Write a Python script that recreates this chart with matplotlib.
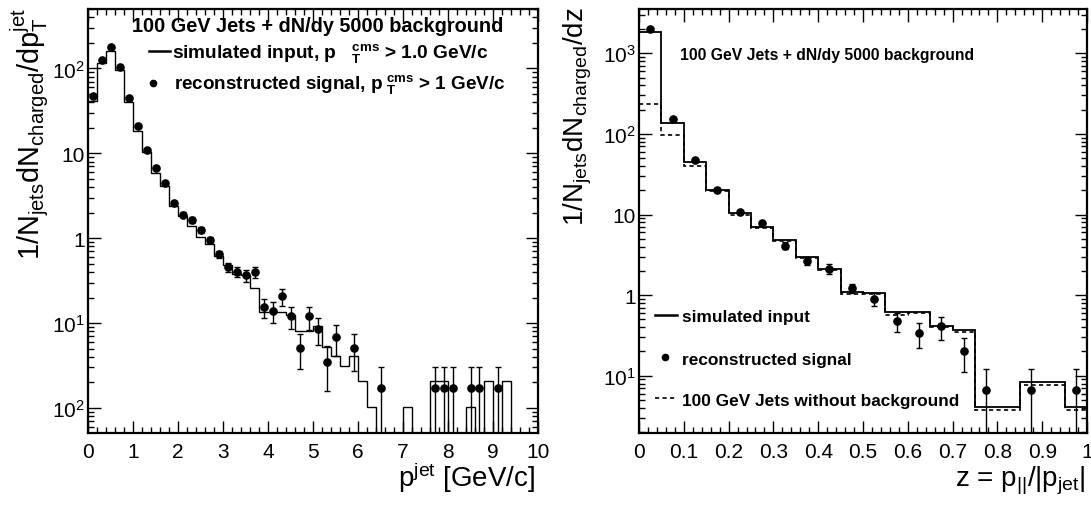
import numpy as np
import matplotlib
matplotlib.use("Agg")
import matplotlib.pyplot as plt
from matplotlib.ticker import FixedLocator, FixedFormatter, LogLocator, MultipleLocator, NullFormatter, FuncFormatter
from matplotlib.lines import Line2D

plt.rcParams['font.family'] = ['Liberation Sans', 'DejaVu Sans']
plt.rcParams['mathtext.fontset'] = 'custom'
plt.rcParams['mathtext.rm'] = 'Liberation Sans'
plt.rcParams['mathtext.it'] = 'Liberation Sans:italic'
plt.rcParams['mathtext.bf'] = 'Liberation Sans:bold'
plt.rcParams['mathtext.default'] = 'regular'

# left panel: charged particle pT in jet, 50 bins of 0.2 GeV/c
pt_edges = np.linspace(0, 10, 51)
pt_sim = [41, 116, 162, 95, 40, 18.2, 10.3, 5.9, 4.17, 2.38,
          1.85, 1.41, 1.03, 0.857, 0.62, 0.485, 0.38, 0.37, 0.258, 0.134,
          0.134, 0.134, 0.126, 0.0817, 0.0817, 0.0934, 0.0528, 0.0414, 0.031, 0.0414,
          0.0207, 0.0104, 0, 0, 0, 0.0104, 0, 0, 0.0207, 0.0207,
          0, 0, 0.0104, 0, 0.0207, 0, 0.0207, 0, 0, 0]
pt_reco = [47, 127, 179, 103, 44.6, 20.8, 10.9, 6.8, 4.45, 2.61,
           1.90, 1.64, 1.25, 0.955, 0.65, 0.455, 0.40, 0.365, 0.398, 0.154,
           0.138, 0.207, 0.120, 0.0514, 0.120, 0.0855, 0.0347, 0.068, 0, 0.0514,
           0, 0, 0.0173, 0, 0, 0, 0, 0, 0.0173, 0.0173,
           0.0173, 0, 0.0173, 0.0173, 0, 0.0173, 0, 0, 0, 0]
pt_reco_err = [1.0, 2.0, 2.5, 2.0, 1.2, 0.7, 0.45, 0.3, 0.22, 0.16,
               0.13, 0.12, 0.1, 0.085, 0.06, 0.05, 0.055, 0.058, 0.062, 0.04,
               0.037, 0.046, 0.035, 0.023, 0.036, 0.03, 0.019, 0.027, 0, 0.024,
               0, 0, 0.0128, 0, 0, 0, 0, 0, 0.0128, 0.0128,
               0.0128, 0, 0.0128, 0.0128, 0, 0.0128, 0, 0, 0, 0]
pt_yticks = [1e-2, 1e-1, 1, 10, 100]
pt_yticklabels = ['$10^{2}$', '$10^{1}$', '1', '10', '$10^{2}$']

# right panel: z = p_par/|p_jet|, 20 bins of 0.05
z_edges = np.linspace(0, 1, 21)
z_sim = [1820, 136, 44.8, 20.3, 10.4, 7.06, 4.87, 2.95, 2.12, 1.10,
         1.06, 0.612, 0.612, 0.417, 0.370, 0.0406, 0.0406, 0.0828, 0.0828, 0.0406]
z_nobkg = [237, 96, 39.6, 19.8, 9.95, 6.8, 4.73, 2.9, 2.05, 1.03,
           1.02, 0.57, 0.60, 0.405, 0.352, 0.038, 0.038, 0.0777, 0.0777, 0.038]
z_reco = [2000, 155, 48, 20.3, 10.7, 7.85, 4.1, 2.67, 2.12, 1.22,
          0.895, 0.473, 0.336, 0.41, 0.204, 0.067, 0, 0.067, 0, 0.067]
z_reco_err = [20, 4, 1.5, 0.8, 0.5, 0.4, 0.4, 0.33, 0.28, 0.17,
              0.16, 0.12, 0.118, 0.13, 0.094, 0.054, 0, 0.054, 0, 0.054]
z_yticks = [0.1, 1, 10, 100, 1000]
z_yticklabels = ['$10^{1}$', '1', '10', '$10^{2}$', '$10^{3}$']

W, H = 1091, 506
fig = plt.figure(figsize=(W / 100, H / 100), dpi=100)
ax1 = fig.add_axes([88 / W, 1 - 434.3 / H, 450 / W, 424.3 / H])
ax2 = fig.add_axes([639 / W, 1 - 434.3 / H, 448 / W, 424.3 / H])


def hist(ax, edges, vals, **kw):
    v = np.asarray(vals, float)
    v = np.where(v > 0, v, 1e-9)  # empty bins drop to the floor
    ax.stairs(v, edges, baseline=None, color='k', **kw)


def points(ax, edges, vals, errs):
    c = 0.5 * (edges[1:] + edges[:-1])
    v = np.asarray(vals, float)
    e = np.asarray(errs, float)
    m = v > 0
    ax.errorbar(c[m], v[m], yerr=e[m], fmt='o', ms=5.2, color='k',
                elinewidth=1.0, capsize=2, capthick=1.0)


def style(ax, major, minor, yticks, ylabels):
    ax.set_yscale('log')
    ax.xaxis.set_major_locator(MultipleLocator(major))
    ax.xaxis.set_minor_locator(MultipleLocator(minor))
    ax.xaxis.set_major_formatter(FuncFormatter(lambda v, p: f"{v:g}"))
    ax.yaxis.set_major_locator(FixedLocator(yticks))
    ax.yaxis.set_major_formatter(FixedFormatter(ylabels))
    ax.yaxis.set_minor_locator(LogLocator(base=10, subs=np.arange(2, 10), numticks=100))
    ax.yaxis.set_minor_formatter(NullFormatter())
    ax.tick_params(which='both', direction='in', top=True, right=True, labelsize=15)
    ax.tick_params(which='major', length=9, width=1)
    ax.tick_params(which='minor', length=4.5, width=1)
    ax.tick_params(axis='x', pad=6)
    ax.tick_params(axis='y', pad=2)
    for s in ax.spines.values():
        s.set_linewidth(1.6)


# left panel
hist(ax1, pt_edges, pt_sim, lw=1.0)
points(ax1, pt_edges, pt_reco, pt_reco_err)
style(ax1, 1, 0.2, pt_yticks, pt_yticklabels)
ax1.set_xlim(0, 10)
ax1.set_ylim(5.03e-3, 502)
ax1.set_xlabel(r'p$^{jet}$ [GeV/c]', fontsize=20, loc='right')
ax1.xaxis.set_label_coords(0.993, -0.124)
ax1.xaxis.label.set_va('baseline')
ax1.set_ylabel(r'1/N$_{jets}$dN$_{charged}$/dp$_{T}^{jet}$', fontsize=20.8, loc='top')
ax1.yaxis.set_label_coords(-0.109, 1.005)
ax1.yaxis.label.set_va('baseline')

ax1.text(0.098, 0.949, '100 GeV Jets + dN/dy 5000 background', transform=ax1.transAxes,
         fontsize=14.3, fontweight='bold', va='baseline')
ax1.add_line(Line2D([0.136, 0.182], [0.900, 0.900], transform=ax1.transAxes, color='k', lw=1.8))
ax1.text(0.187, 0.888, r'simulated input, $\mathbf{p\quad}^{\mathbf{cms}}_{\mathbf{T}}$ > 1.0 GeV/c',
         transform=ax1.transAxes, fontsize=13.8, fontweight='bold', va='baseline')
ax1.plot([0.144], [0.825], 'o', ms=4.5, color='k', transform=ax1.transAxes)
ax1.text(0.190, 0.813, r'reconstructed signal, $\mathbf{p\;}^{\mathbf{cms}}_{\mathbf{T}}$ > 1 GeV/c',
         transform=ax1.transAxes, fontsize=13.6, fontweight='bold', va='baseline')

# right panel
hist(ax2, z_edges, z_sim, lw=1.3)
hist(ax2, z_edges, z_nobkg, lw=1.2, linestyle=(0, (2.5, 2)))
points(ax2, z_edges, z_reco, z_reco_err)
style(ax2, 0.1, 0.02, z_yticks, z_yticklabels)
ax2.set_xlim(0, 1)
ax2.set_ylim(0.0193, 3550)
ax2.set_xlabel(r'z = p$_{||}$/|p$_{jet}$|', fontsize=20, loc='right')
ax2.xaxis.set_label_coords(0.998, -0.124)
ax2.xaxis.label.set_va('baseline')
ax2.set_ylabel(r'1/N$_{jets}$dN$_{charged}$/dz', fontsize=20, loc='top')
ax2.yaxis.set_label_coords(-0.123, 1.007)
ax2.yaxis.label.set_va('baseline')

ax2.text(0.0915, 0.882, '100 GeV Jets + dN/dy 5000 background', transform=ax2.transAxes,
         fontsize=11.3, fontweight='bold', va='baseline')
ax2.add_line(Line2D([0.0346, 0.084], [0.279, 0.279], transform=ax2.transAxes, color='k', lw=1.8))
ax2.text(0.0955, 0.2654, 'simulated input', transform=ax2.transAxes,
         fontsize=12.4, fontweight='bold', va='baseline')
ax2.plot([0.059], [0.181], 'o', ms=4.5, color='k', transform=ax2.transAxes)
ax2.text(0.0955, 0.163, 'reconstructed signal', transform=ax2.transAxes,
         fontsize=12.4, fontweight='bold', va='baseline')
ax2.add_line(Line2D([0.0346, 0.084], [0.083, 0.083], transform=ax2.transAxes, color='k',
                    lw=1.2, linestyle=(0, (2.5, 2))))
ax2.text(0.0955, 0.0667, '100 GeV Jets without background', transform=ax2.transAxes,
         fontsize=12.4, fontweight='bold', va='baseline')

fig.savefig('out.png', dpi=100)
